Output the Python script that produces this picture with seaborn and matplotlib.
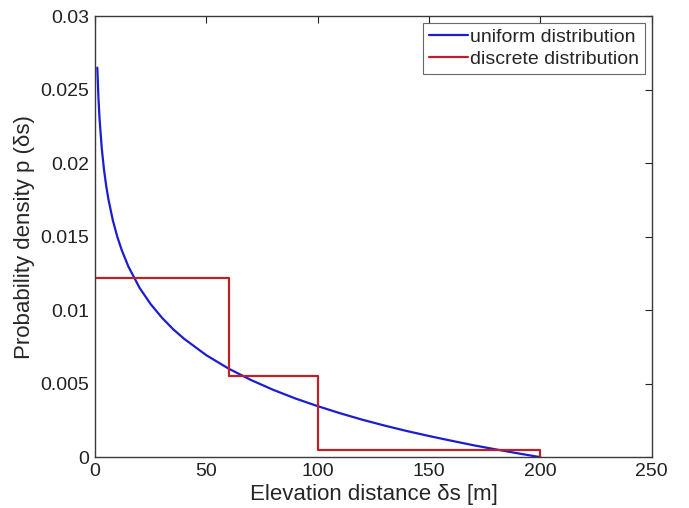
import matplotlib
matplotlib.use("Agg")
import matplotlib.pyplot as plt
import seaborn as sns
import pandas as pd

# Continuous density of elevation distance (values per distance in metres)
uniform_s = [1, 1.5, 2, 3, 4, 5, 6, 8, 10, 12, 15, 20, 25, 30, 35, 40, 50, 60,
             70, 80, 90, 100, 110, 120, 130, 140, 150, 160, 170, 180, 190, 200]
uniform_p = [0.02649, 0.02446, 0.02303, 0.02100, 0.01956, 0.01844, 0.01753,
             0.01609, 0.01498, 0.01407, 0.01295, 0.01151, 0.01040, 0.00949,
             0.00871, 0.00805, 0.00693, 0.00602, 0.00525, 0.00458, 0.00399,
             0.00347, 0.00299, 0.00255, 0.00215, 0.00178, 0.00144, 0.00112,
             0.00081, 0.00053, 0.00026, 0.0]

# Piecewise-constant density (bin edges and levels)
discrete_edges = [0, 60, 100, 200, 200]
discrete_p = [0.0122, 0.0055, 0.0005, 0.0, 0.0]

x_ticks = [0, 50, 100, 150, 200, 250]
y_ticks = [0, 0.005, 0.01, 0.015, 0.02, 0.025, 0.03]
y_tick_labels = ["0", "0.005", "0.01", "0.015", "0.02", "0.025", "0.03"]

sns.set_style("white")
plt.rcParams["font.family"] = ["Liberation Sans", "DejaVu Sans"]

df_u = pd.DataFrame({"s": uniform_s, "p": uniform_p})
df_d = pd.DataFrame({"s": discrete_edges, "p": discrete_p})

fig = plt.figure(figsize=(6.89, 5.08), dpi=100)
ax = fig.add_axes([0.138, 0.100, 0.808, 0.8685])

sns.lineplot(data=df_u, x="s", y="p", ax=ax, color="#1c1cd0", lw=1.6,
             estimator=None, sort=False, label="uniform distribution")
sns.lineplot(data=df_d, x="s", y="p", ax=ax, color="#b8222a", lw=1.6,
             estimator=None, sort=False, drawstyle="steps-post",
             label="discrete distribution")

ax.set_xlim(0, 250)
ax.set_ylim(0, 0.03)
ax.set_xticks(x_ticks)
ax.set_xticklabels([str(t) for t in x_ticks])
ax.set_yticks(y_ticks)
ax.set_yticklabels(y_tick_labels)
ax.tick_params(direction="in", length=5, width=0.8, top=True, right=True,
               labelsize=14, colors="#222222", pad=4)
for side, sp in ax.spines.items():
    sp.set_visible(True)
    sp.set_color("#3a3a3a")
    sp.set_linewidth(1.0)

ax.set_xlabel("Elevation distance δs [m]", fontsize=16, labelpad=3)
ax.set_ylabel("Probability density p (δs)", fontsize=16, labelpad=4)

leg = ax.legend(loc="upper right", fontsize=14, frameon=True, fancybox=False,
                edgecolor="#444444", borderpad=0.3, handlelength=2.0,
                handletextpad=0.1, labelspacing=0.2, borderaxespad=0.35)
leg.get_frame().set_linewidth(0.8)

fig.savefig("out.png", dpi=100, facecolor="white")
